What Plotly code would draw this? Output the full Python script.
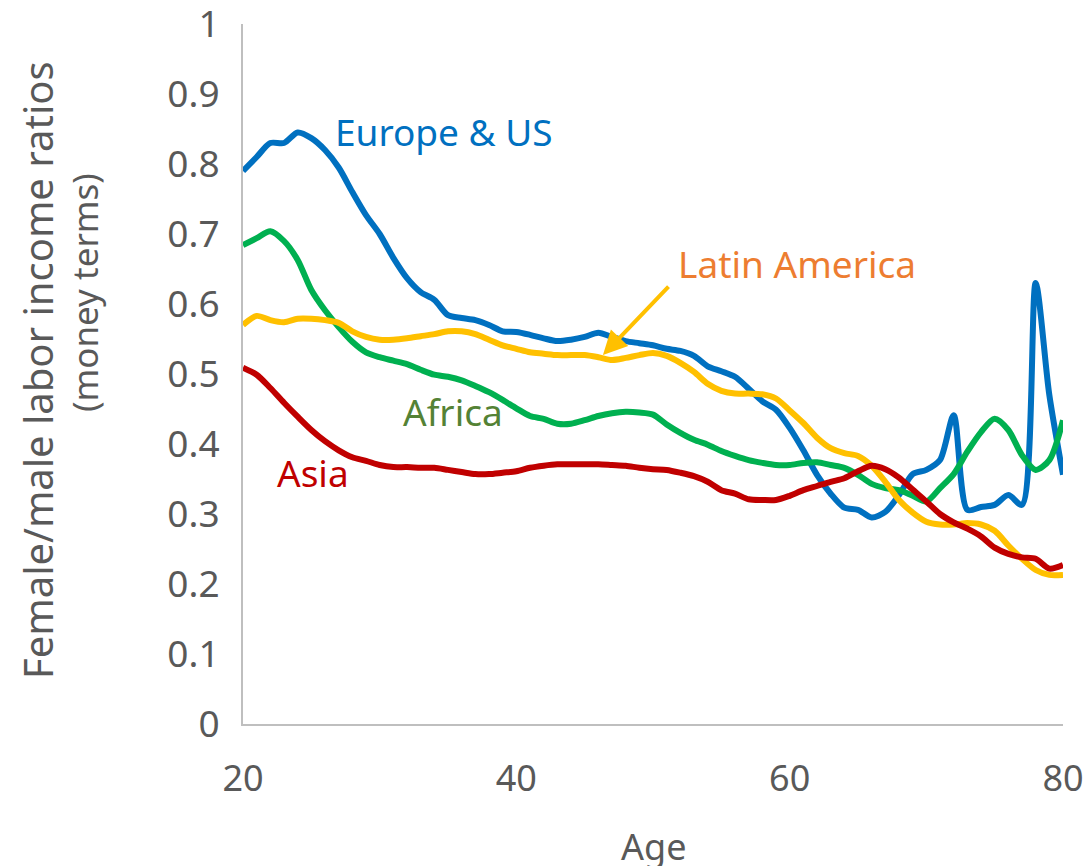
import plotly.graph_objects as go

ages = list(range(20, 81))

europe_us = [0.79, 0.81, 0.83, 0.83, 0.845, 0.837, 0.82, 0.795, 0.76, 0.727,
             0.70, 0.666, 0.637, 0.617, 0.606, 0.584, 0.58, 0.577, 0.57, 0.561,
             0.56, 0.556, 0.551, 0.547, 0.549, 0.553, 0.559, 0.553, 0.547, 0.544,
             0.541, 0.536, 0.533, 0.526, 0.511, 0.504, 0.496, 0.479, 0.461, 0.449,
             0.423, 0.391, 0.356, 0.329, 0.309, 0.306, 0.295, 0.303, 0.327, 0.357,
             0.363, 0.377, 0.441, 0.306, 0.31, 0.313, 0.327, 0.313, 0.63, 0.47,
             0.356]

africa = [0.684, 0.694, 0.704, 0.69, 0.663, 0.62, 0.591, 0.567, 0.546, 0.531,
          0.524, 0.519, 0.514, 0.506, 0.499, 0.496, 0.491, 0.483, 0.474, 0.463,
          0.451, 0.44, 0.436, 0.429, 0.429, 0.434, 0.44, 0.444, 0.446, 0.445,
          0.442, 0.428, 0.416, 0.406, 0.399, 0.39, 0.383, 0.377, 0.373, 0.37,
          0.37, 0.373, 0.374, 0.37, 0.366, 0.356, 0.343, 0.337, 0.334, 0.326,
          0.318, 0.337, 0.357, 0.389, 0.417, 0.436, 0.42, 0.384, 0.363, 0.377,
          0.434]

latin_america = [0.57, 0.583, 0.577, 0.574, 0.579, 0.579, 0.577, 0.573, 0.561, 0.553,
                 0.549, 0.549, 0.551, 0.554, 0.557, 0.561, 0.561, 0.557, 0.549, 0.541,
                 0.536, 0.531, 0.529, 0.527, 0.527, 0.527, 0.524, 0.52, 0.523, 0.527,
                 0.53, 0.526, 0.516, 0.503, 0.486, 0.476, 0.472, 0.472, 0.471, 0.465,
                 0.448, 0.43, 0.409, 0.394, 0.387, 0.383, 0.369, 0.346, 0.32, 0.302,
                 0.289, 0.285, 0.285, 0.287, 0.285, 0.276, 0.255, 0.236, 0.22, 0.213,
                 0.213]

asia = [0.509, 0.499, 0.48, 0.459, 0.439, 0.42, 0.404, 0.391, 0.381, 0.376,
        0.37, 0.367, 0.367, 0.366, 0.366, 0.363, 0.36, 0.357, 0.357, 0.359,
        0.361, 0.366, 0.369, 0.371, 0.371, 0.371, 0.371, 0.37, 0.369, 0.366,
        0.364, 0.363, 0.359, 0.354, 0.346, 0.334, 0.329, 0.321, 0.32, 0.32,
        0.326, 0.334, 0.34, 0.346, 0.351, 0.361, 0.369, 0.364, 0.352, 0.335,
        0.318, 0.3, 0.288, 0.279, 0.268, 0.252, 0.243, 0.238, 0.236, 0.222,
        0.227]

x_ticks = [20, 40, 60, 80]
y_ticks = [0, 0.1, 0.2, 0.3, 0.4, 0.5, 0.6, 0.7, 0.8, 0.9, 1]
y_tick_text = ["0", "0.1", "0.2", "0.3", "0.4", "0.5", "0.6", "0.7", "0.8", "0.9", "1"]

series = [
    ("Europe & US", europe_us, "#0070C0"),
    ("Africa", africa, "#00B050"),
    ("Latin America", latin_america, "#FFC000"),
    ("Asia", asia, "#C00000"),
]

FONT = "Noto Sans"
GREY = "#595959"

fig = go.Figure()
for name, vals, col in series:
    fig.add_trace(go.Scatter(x=ages, y=vals, mode="lines", name=name,
                             line=dict(color=col, width=6, shape="spline", smoothing=0.8)))

labels = [
    ("Europe & US", 34.7, 0.847, "#0070C0"),
    ("Latin America", 60.5, 0.658, "#ED7D31"),
    ("Africa", 35.4, 0.447, "#548235"),
    ("Asia", 25.1, 0.36, "#C00000"),
]
for txt, xx, yy, col in labels:
    fig.add_annotation(x=xx, y=yy, text=txt, showarrow=False,
                       font=dict(family=FONT, size=37, color=col))

fig.add_annotation(x=46.34, y=0.527, ax=51.24, ay=0.627, axref="x", ayref="y",
                   xref="x", yref="y", text="", showarrow=True,
                   arrowcolor="#FFC000", arrowwidth=4, arrowhead=2, arrowsize=1.2)

fig.add_annotation(xref="paper", yref="paper", x=0.5, y=-0.175, text="Age",
                   showarrow=False, font=dict(family=FONT, size=36, color=GREY),
                   yanchor="middle")
fig.add_annotation(xref="paper", x=-0.2512, yref="paper", y=0.5057,
                   text="Female/male labor income ratios",
                   textangle=-90, showarrow=False, xanchor="center", yanchor="middle",
                   font=dict(family=FONT, size=40, color=GREY))
fig.add_annotation(xref="paper", x=-0.1939, yref="paper", y=0.6157,
                   text="(money terms)",
                   textangle=-90, showarrow=False, xanchor="center", yanchor="middle",
                   font=dict(family=FONT, size=35, color=GREY))

fig.update_layout(
    width=1088, height=866,
    margin=dict(l=243, r=25, t=24, b=142, autoexpand=False),
    paper_bgcolor="white", plot_bgcolor="white",
    showlegend=False,
    font=dict(family=FONT, color=GREY),
)
fig.update_xaxes(range=[20, 80], tickvals=x_ticks, showgrid=False, zeroline=False,
                 showline=True, linecolor="#BFBFBF", linewidth=2, automargin=False,
                 tickfont=dict(family=FONT, size=36, color=GREY),
                 ticks="", ticklabelstandoff=22, ticklabeloverflow="allow")
fig.update_yaxes(range=[0, 1], tickvals=y_ticks, ticktext=y_tick_text, showgrid=False,
                 zeroline=False, showline=True, linecolor="#BFBFBF", linewidth=2,
                 automargin=False,
                 tickfont=dict(family=FONT, size=37, color=GREY),
                 ticks="", ticklabelstandoff=14, ticklabeloverflow="allow")

fig.write_html("out.html", config={"displayModeBar": False},
               post_script="document.body.style.margin='0';document.body.style.overflow='hidden';")
